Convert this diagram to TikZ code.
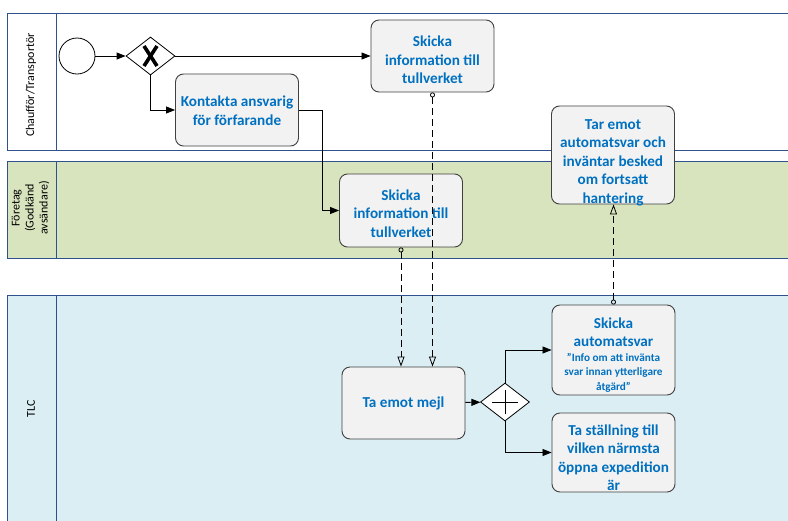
\documentclass[tikz,border=0pt]{standalone}
\usepackage{fontspec}
\setmainfont{Carlito}
\usetikzlibrary{shapes.geometric,arrows.meta}
\definecolor{laneblue}{RGB}{47,82,143}
\definecolor{lanegreen}{RGB}{215,228,189}
\definecolor{lanecyan}{RGB}{218,238,243}
\definecolor{boxfill}{RGB}{242,242,242}
\definecolor{boxline}{RGB}{64,64,64}
\definecolor{textblue}{RGB}{0,112,192}
\newcommand{\smalltxt}{\fontsize{11.2}{14.5}\selectfont}
\newcommand{\dn}[2]{\parindent=0pt\parskip=0pt\par\vspace*{#1}\noindent #2\par\vspace{-#1}}
\tikzset{
  task/.style={draw=boxline, fill=boxfill, rounded corners=8pt, line width=0.9pt,
    text width=121pt, align=flush center, text=textblue,
    font=\bfseries\fontsize{15.2}{18.5}\selectfont, inner sep=1pt},
  lanelabel/.style={rotate=90, align=center, font=\fontsize{12}{14}\selectfont, text=black},
  gateway/.style={diamond, draw=black, fill=white, line width=0.8pt, minimum width=49pt, minimum height=38pt, inner sep=0pt},
  flow/.style={draw=black, line width=0.8pt, -{Triangle[length=9pt,width=7pt]}},
  msg/.style={draw=black, line width=0.8pt, dash pattern=on 7pt off 4pt,
    {Circle[open,length=5pt,width=5pt]}-{Triangle[open,length=10pt,width=7pt]}},
  laneframe/.style={draw=laneblue, line width=1pt}
}
\begin{document}
\begin{tikzpicture}[x=1pt,y=-1pt]
\useasboundingbox (0,0) rectangle (788,520);
\begin{scope}
\clip (0,0) rectangle (788,520);
% lanes
\draw[laneframe, fill=white] (7,13.5) rectangle (800,150.5);
\draw[laneframe] (56,13.5) -- (56,150.5);
\draw[laneframe, fill=lanegreen] (7,161) rectangle (800,258);
\draw[laneframe] (56,161) -- (56,258);
\draw[laneframe, fill=lanecyan] (7,295) rectangle (800,530);
\draw[laneframe] (56,295) -- (56,530);
\end{scope}
\node[lanelabel] (l1) at (31,85) {Chaufför/Transportör};
\node[lanelabel] (l2) at (30.5,208) {Företag\\(Godkänd\\avsändare)};
\node[lanelabel] (l3) at (31,409) {TLC};

% events and gateways
\node[circle, draw=black, fill=white, line width=0.8pt, minimum size=36pt, inner sep=0pt] (start) at (77,56) {};
\node[gateway] (gw1) at (150.5,56) {};
\draw[line width=3.6pt] ([shift={(-6.5,-10)}]gw1.center) -- ([shift={(6.5,10)}]gw1.center);
\draw[line width=3.6pt] ([shift={(6.5,-10)}]gw1.center) -- ([shift={(-6.5,10)}]gw1.center);

% tasks
\node[task, minimum height=72pt] (t1) at (432.5,56) {\dn{0pt}{Skicka\\information till\\tullverket}};
\node[task, minimum height=72pt] (t2) at (237,110) {\dn{-3pt}{Kontakta ansvarig\\för förfarande}};
\node[task, minimum height=73pt] (t3) at (401,210.5) {\dn{-1pt}{Skicka\\information till\\tullverket}};
\node[task, minimum height=98pt] (t4) at (613,155) {\dn{3.5pt}{Tar emot\\automatsvar och\\inväntar besked\\om fortsatt\\hantering}};
\node[task, minimum height=72pt] (t5) at (403.5,403) {\dn{-3pt}{Ta emot mejl}};
\node[gateway] (gw2) at (505,402) {};
\draw[line width=0.8pt] ([xshift=-13pt]gw2.center) -- ([xshift=13pt]gw2.center);
\draw[line width=0.8pt] ([yshift=-12pt]gw2.center) -- ([yshift=12pt]gw2.center);
\node[task, minimum height=90pt] (t6) at (613.5,350) {\dn{1pt}{Skicka\\automatsvar\par\noindent\smalltxt ”Info om att invänta\\svar innan ytterligare\\åtgärd”}};
\node[task, minimum height=79pt] (t7) at (613.5,452.5) {\dn{1.5pt}{Ta ställning till\\vilken närmsta\\öppna expedition\\är}};

% sequence flows
\draw[flow] (start) -- (gw1);
\draw[flow] (gw1) -- (t1);
\draw[flow] (gw1.south) |- (t2.west);
\draw[flow] (t2.east) -- ++(23,0) |- (t3.west);
\draw[flow] (t5) -- (gw2);
\draw[flow] (gw2.north) |- (t6.west);
\draw[flow] (gw2.south) |- (t7.west);

% message flows
\draw[msg] (t1.south) -- (t1.south |- t5.north);
\draw[msg] (t3.south) -- (t3.south |- t5.north);
\draw[msg] (t6.north) -- (t6.north |- t4.south);
\end{tikzpicture}
\end{document}
